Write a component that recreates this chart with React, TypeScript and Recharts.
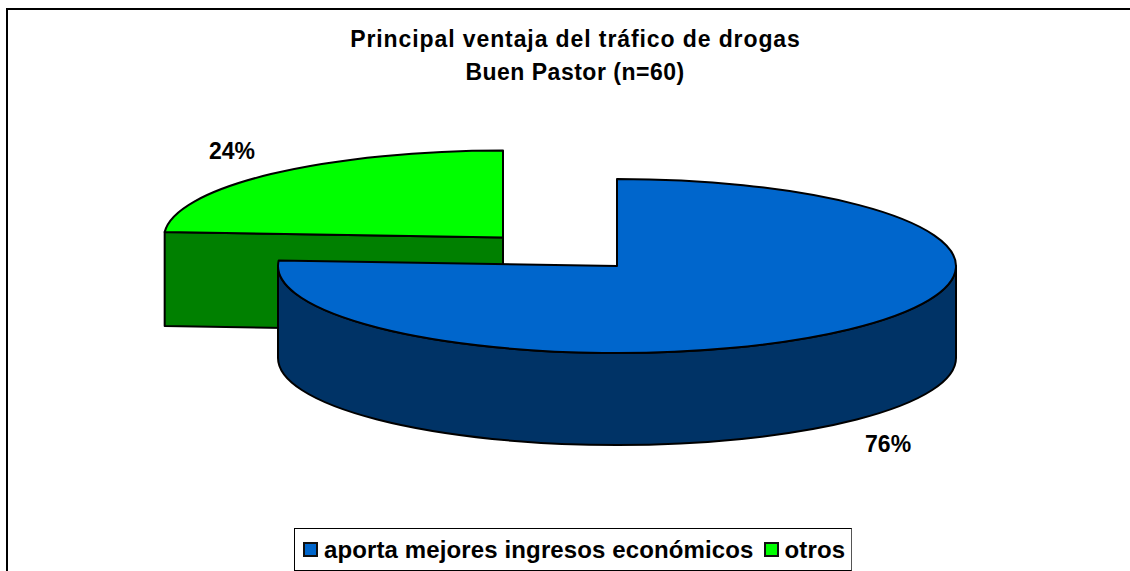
import { Legend, Pie, PieChart } from 'recharts'

const categories = ['aporta mejores ingresos económicos', 'otros']
const values = [76, 24]
const topColors = ['#0066CC', '#00FF00']
const sideColors = ['#003366', '#008000']
const titleLines = ['Principal ventaja del tráfico de drogas', 'Buen Pastor (n=60)']

const data = categories.map((name, i) => ({ name, value: values[i], fill: topColors[i] }))

const font = '"Liberation Sans", Arial, sans-serif'
const RADIUS = 339
const TILT = 87 / 339
const DEPTHS = [92, 94]

const rad = (deg: number) => (deg * Math.PI) / 180

// flatten a slice onto the tilted plane
function Slice3D({ cx, cy, startAngle, endAngle, outerRadius, index }: any) {
  const rx = outerRadius
  const ry = outerRadius * TILT
  const depth = DEPTHS[index]
  const at = (deg: number, dy = 0) =>
    `${cx + rx * Math.cos(rad(deg))} ${cy - ry * Math.sin(rad(deg)) + dy}`
  const large = Math.abs(startAngle - endAngle) > 180 ? 1 : 0
  const coversFront = startAngle >= 0 && endAngle <= -180

  const top = `M${cx} ${cy} L${at(startAngle)} A${rx} ${ry} 0 ${large} 1 ${at(endAngle)} Z`
  const side = coversFront
    ? `M${at(0)} A${rx} ${ry} 0 0 1 ${at(-180)} L${at(-180, depth)} A${rx} ${ry} 0 0 0 ${at(0, depth)} Z`
    : `M${at(startAngle)} L${cx} ${cy} L${cx} ${cy + depth} L${at(startAngle, depth)} Z`

  return (
    <g>
      <path d={side} fill={sideColors[index]} stroke="#000" strokeWidth={2} strokeLinejoin="round" />
      <path d={top} fill={topColors[index]} stroke="#000" strokeWidth={2} strokeLinejoin="round" />
    </g>
  )
}

const sliceOnly = (only: number) => (props: any) =>
  props.index === only ? <Slice3D {...props} /> : <g />

const labelOnly = (only: number) => (props: any) => {
  if (props.index !== only) return <g />
  const mid = rad(props.midAngle)
  const x = props.cx + (RADIUS + 57) * Math.cos(mid)
  const sin = Math.sin(mid)
  const y = props.cy - 118 * sin + (sin < 0 ? DEPTHS[only] : 0)
  return (
    <text x={x} y={y} textAnchor="middle" dominantBaseline="central" fontFamily={font} fontWeight={700} fontSize={23} fill="#000">
      {props.value}%
    </text>
  )
}

function LegendBox({ payload }: any) {
  const items = (payload ?? []).filter((entry: any) => entry.type !== 'none')
  return (
    <div
      style={{
        boxSizing: 'border-box',
        width: 558,
        height: 43,
        border: '1px solid #000',
        borderRightColor: '#555',
        background: '#fff',
        display: 'flex',
        alignItems: 'center',
        paddingLeft: 8,
        fontFamily: font,
        fontWeight: 700,
        fontSize: 24,
        letterSpacing: 0.12,
        color: '#000',
        whiteSpace: 'nowrap',
      }}
    >
      {items.map((entry: any, i: number) => (
        <span key={entry.value} style={{ display: 'flex', alignItems: 'center', marginRight: i === 0 ? 10 : 0 }}>
          <span style={{ width: 11, height: 11, background: entry.color, border: '2px solid #111', marginRight: 6 }} />
          {entry.value}
        </span>
      ))}
    </div>
  )
}

export default function App() {
  return (
    <div style={{ position: 'absolute', left: 0, top: 0, width: 1130, height: 571, overflow: 'hidden', background: '#fff' }}>
      <div style={{ position: 'absolute', left: 6, top: 8, width: 1130, height: 600, borderLeft: '2px solid #000', borderTop: '2px solid #000' }} />
      <div style={{ position: 'absolute', left: 0, top: 0 }}>
        <PieChart width={1130} height={571} margin={{ top: 0, right: 0, bottom: 0, left: 0 }}>
          <Pie
            data={data}
            dataKey="value"
            nameKey="name"
            cx={503}
            cy={237.5}
            outerRadius={RADIUS}
            startAngle={90}
            endAngle={-270}
            paddingAngle={0}
            stroke="none"
            legendType="none"
            shape={sliceOnly(1)}
            label={labelOnly(1)}
            labelLine={false}
            isAnimationActive={false}
          />
          <Pie
            data={data}
            dataKey="value"
            nameKey="name"
            cx={617}
            cy={266}
            outerRadius={RADIUS}
            startAngle={90}
            endAngle={-270}
            paddingAngle={0}
            stroke="none"
            shape={sliceOnly(0)}
            label={labelOnly(0)}
            labelLine={false}
            isAnimationActive={false}
          />
          <text x={575.5} y={47} textAnchor="middle" fontFamily={font} fontWeight={700} fontSize={23} letterSpacing={0.9} fill="#000">
            {titleLines[0]}
          </text>
          <text x={575} y={80} textAnchor="middle" fontFamily={font} fontWeight={700} fontSize={23} letterSpacing={0.5} fill="#000">
            {titleLines[1]}
          </text>
          <Legend content={<LegendBox />} wrapperStyle={{ position: 'absolute', left: 294, top: 528, width: 558, height: 43 }} />
        </PieChart>
      </div>
    </div>
  )
}
